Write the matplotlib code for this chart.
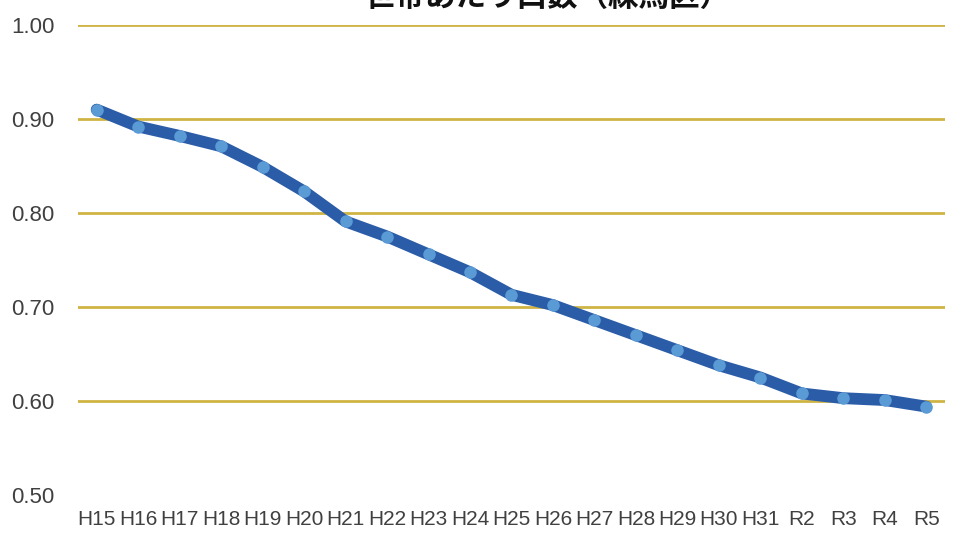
import matplotlib
matplotlib.use("Agg")
import matplotlib.pyplot as plt
from matplotlib import font_manager

categories = ["H15", "H16", "H17", "H18", "H19", "H20", "H21", "H22", "H23", "H24",
              "H25", "H26", "H27", "H28", "H29", "H30", "H31", "R2", "R3", "R4", "R5"]
values = [0.910, 0.892, 0.882, 0.871, 0.849, 0.823, 0.791, 0.775, 0.756, 0.737,
          0.713, 0.702, 0.686, 0.670, 0.654, 0.638, 0.625, 0.608, 0.603, 0.601, 0.594]
yticks = [0.50, 0.60, 0.70, 0.80, 0.90, 1.00]
title = "世帯あたり口数（練馬区）"

names = {f.name for f in font_manager.fontManager.ttflist}
narrow = "Liberation Sans Narrow" if "Liberation Sans Narrow" in names else "Liberation Sans"

fig = plt.figure(figsize=(9.57, 5.46), dpi=100)
ax = fig.add_axes([78/957, 51/546, (945-78)/957, (495-25)/546])

x = list(range(len(categories)))
for yt in yticks[1:]:
    ax.axhline(yt, color="#cfb444", lw=2, zorder=1)
ax.plot(x, values, color="#2b5ca8", lw=8.5, solid_capstyle="round", zorder=2,
        marker="o", markersize=8, markerfacecolor="#5b9bd5", markeredgecolor="#5b9bd5")

ax.set_xlim(-0.45, 20.45)
ax.set_ylim(0.5, 1.0)
ax.set_yticks(yticks)
ax.set_yticklabels([f"{v:.2f}" for v in yticks], fontsize=16, color="#404040",
                   family=[narrow, "DejaVu Sans"])
ax.set_xticks(x)
ax.set_xticklabels(categories, fontsize=15, color="#404040", family=[narrow, "DejaVu Sans"])
ax.tick_params(axis="y", length=0, pad=17)
ax.tick_params(axis="x", length=0, pad=11)
for s in ax.spines.values():
    s.set_visible(False)

fig.text(548/957, 1 + 3/546, title, ha="center", va="center", fontsize=22,
         fontweight="bold", family=["Noto Sans CJK JP", "DejaVu Sans"], color="#111111")

fig.savefig("out.png", dpi=100)
